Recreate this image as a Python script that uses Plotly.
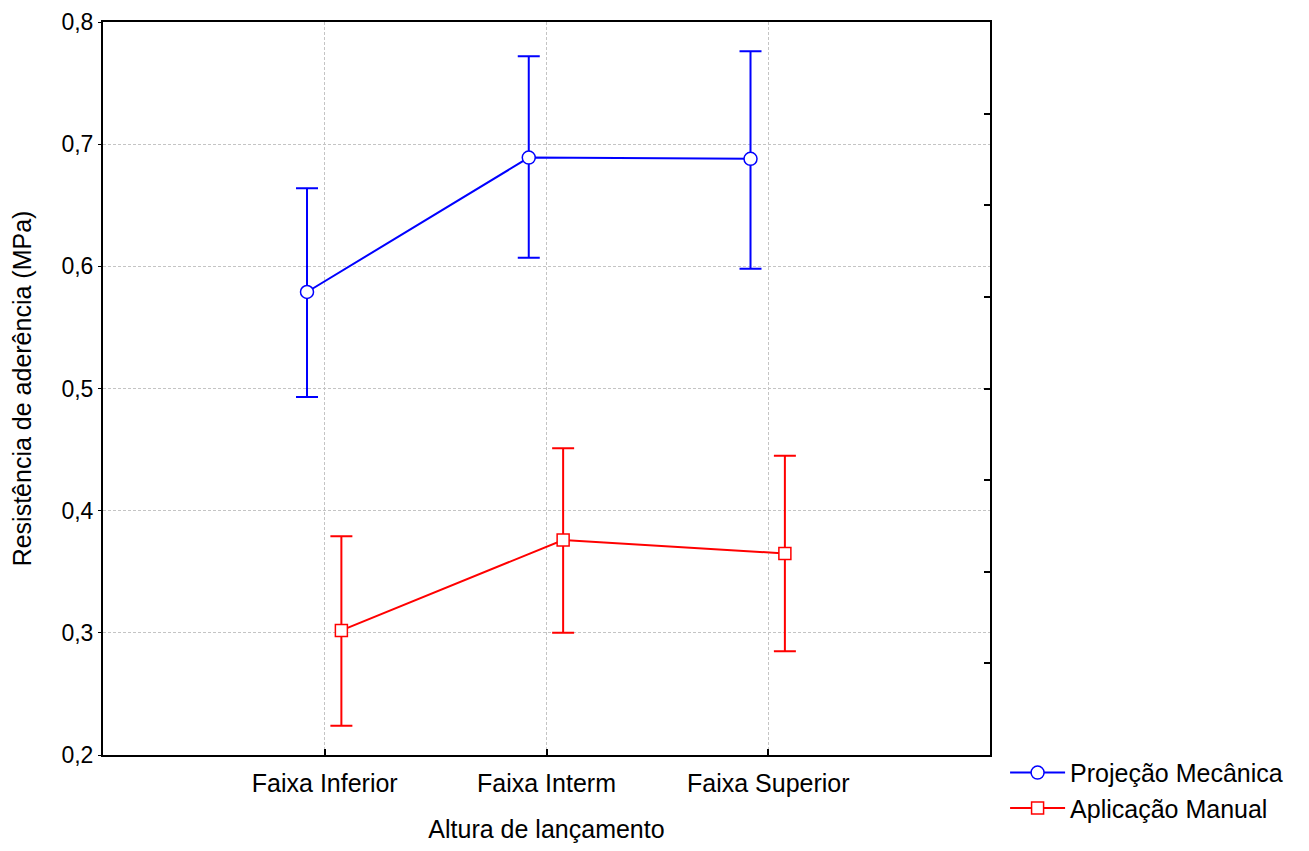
import plotly.graph_objects as go

categories = ["Faixa Inferior", "Faixa Interm", "Faixa Superior"]
proj_mean = [0.579, 0.689, 0.688]
proj_upper = [0.664, 0.772, 0.776]
proj_lower = [0.493, 0.607, 0.598]
man_mean = [0.302, 0.376, 0.365]
man_upper = [0.379, 0.451, 0.445]
man_lower = [0.224, 0.300, 0.285]
right_ticks = [0.2, 0.275, 0.35, 0.425, 0.5, 0.575, 0.65, 0.725, 0.8]

xi = list(range(len(categories)))
FONT = "Liberation Sans, Arial, sans-serif"

fig = go.Figure()
fig.add_trace(go.Scatter(
    x=[i - 0.08 for i in xi], y=proj_mean, name="Projeção Mecânica",
    mode="lines+markers",
    line=dict(color="#0000ff", width=2),
    marker=dict(symbol="circle", size=13, color="white", line=dict(width=1.5, color="#0000ff")),
    error_y=dict(type="data", symmetric=False,
                 array=[u - m for u, m in zip(proj_upper, proj_mean)],
                 arrayminus=[m - l for m, l in zip(proj_mean, proj_lower)],
                 color="#0000ff", thickness=2, width=11),
))
fig.add_trace(go.Scatter(
    x=[i + 0.075 for i in xi], y=man_mean, name="Aplicação Manual",
    mode="lines+markers",
    line=dict(color="#ff0000", width=2),
    marker=dict(symbol="square", size=12, color="white", line=dict(width=1.5, color="#ff0000")),
    error_y=dict(type="data", symmetric=False,
                 array=[u - m for u, m in zip(man_upper, man_mean)],
                 arrayminus=[m - l for m, l in zip(man_mean, man_lower)],
                 color="#ff0000", thickness=2, width=11),
))
fig.add_trace(go.Scatter(x=[0], y=[0.5], yaxis="y2", mode="markers",
                         marker=dict(opacity=0), showlegend=False, hoverinfo="skip"))

fig.update_layout(
    width=1293, height=835,
    margin=dict(l=95, r=311, t=14, b=85),
    paper_bgcolor="white", plot_bgcolor="white",
    separators=",.",
    font=dict(family=FONT, size=25, color="black"),
    xaxis=dict(range=[-1, 3], tickvals=xi, ticktext=categories,
               showgrid=True, gridcolor="#c4c4c4", griddash="3px,2px", gridwidth=1,
               showline=True, linecolor="black", linewidth=2, mirror=True,
               ticks="inside", ticklen=6, tickcolor="black", tickwidth=1.5,
               ticklabelstandoff=5, automargin=False,
               zeroline=False,
               title=dict(text="Altura de lançamento", font=dict(size=25), standoff=29),
               tickfont=dict(size=25)),
    yaxis=dict(range=[0.2, 0.8], tickvals=[0.2, 0.3, 0.4, 0.5, 0.6, 0.7, 0.8],
               tickformat=".1f", ticklabeloverflow="allow", automargin=False,
               showgrid=True, gridcolor="#c4c4c4", griddash="3px,2px", gridwidth=1,
               showline=True, linecolor="black", linewidth=2, mirror=True,
               ticks="outside", ticklen=3, tickcolor="black",
               zeroline=False,
               title=dict(text="Resistência de aderência (MPa)", font=dict(size=25), standoff=24),
               tickfont=dict(size=23)),
    yaxis2=dict(range=[0.2, 0.8], overlaying="y", side="right",
                tickvals=right_ticks, showticklabels=False, ticks="inside",
                ticklen=6, tickwidth=2, tickcolor="black", showgrid=False,
                zeroline=False, showline=False),
    showlegend=True,
    legend=dict(x=1.017, y=0.007, xanchor="left", yanchor="top",
                font=dict(size=25), bgcolor="rgba(0,0,0,0)",
                tracegroupgap=0, itemwidth=55),
)

fig.write_html("out.html")
